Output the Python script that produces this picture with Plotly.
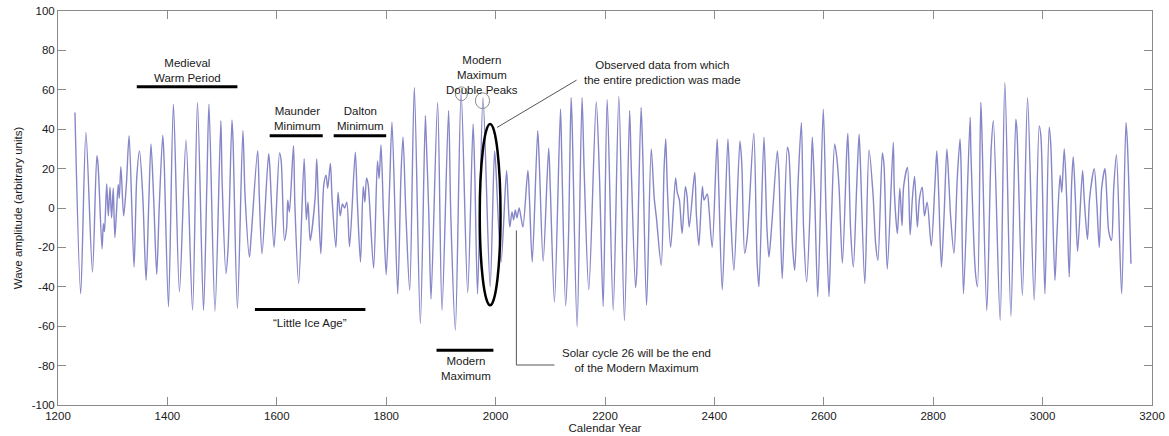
import plotly.graph_objects as go

# ---- data (extrema and kinks of the wave) ----
years = [
    1231, 1241.5, 1251, 1263, 1271, 1273, 1280.5, 1283, 1285, 1289, 1292, 1295, 1298, 1301, 1304,
    1310, 1312, 1315, 1320, 1325, 1330, 1339, 1344, 1349, 1355, 1361, 1366, 1370, 1375, 1380.5,
    1385, 1391.5, 1394, 1402, 1411, 1422, 1434, 1446, 1455, 1466, 1472, 1476, 1487, 1497.7, 1500,
    1507, 1511, 1518, 1520, 1528, 1538, 1542, 1550, 1553, 1565, 1568, 1573, 1585, 1587, 1595,
    1605, 1608, 1614, 1618, 1620, 1623, 1630.5, 1633, 1640, 1650, 1654, 1657, 1661, 1670, 1673,
    1676, 1680.5, 1686, 1690, 1693, 1698, 1701, 1708, 1712, 1716, 1720, 1724, 1728, 1733, 1743.5,
    1747, 1753, 1758, 1761, 1764, 1767, 1777, 1784, 1787, 1790.5, 1795, 1800, 1806, 1810.6, 1821,
    1827, 1830.7, 1836, 1843, 1851.4, 1862.4, 1871.5, 1873, 1878, 1882, 1894, 1902, 1914, 1918,
    1926.4, 1937, 1949, 1958.8, 1962, 1967, 1977, 1990, 1998, 2000, 2010, 2020, 2023, 2026,
    2030, 2033, 2036, 2039, 2043, 2046, 2050, 2059, 2062, 2067, 2077, 2080, 2087, 2097, 2100,
    2107.6, 2118.6, 2121, 2128, 2133, 2138, 2140, 2149, 2158, 2162, 2170.4, 2184, 2190, 2196.7,
    2204, 2215, 2225.3, 2235.5, 2245, 2248, 2255.8, 2258, 2266, 2269, 2276, 2284.5, 2290, 2294,
    2302.8, 2308, 2311, 2314, 2320, 2329, 2332, 2336, 2341, 2347, 2350, 2354, 2364, 2367, 2371.6,
    2378, 2381, 2387, 2390, 2396, 2405, 2408, 2414.4, 2424.7, 2430, 2435.7, 2446.7, 2450, 2455.3,
    2460, 2472, 2478, 2481.4, 2490.6, 2496, 2499.7, 2505, 2515, 2518, 2524, 2533.4, 2536, 2543,
    2546.8, 2553, 2559, 2563, 2568.7, 2576, 2579, 2583, 2589, 2599, 2604, 2609.5, 2614, 2619.9,
    2624, 2628, 2634, 2642, 2644, 2649, 2654, 2660, 2664.5, 2667, 2675, 2682.7, 2690, 2695, 2699,
    2707, 2710, 2716, 2727, 2729, 2734.5, 2739, 2743, 2746, 2753, 2757.8, 2762, 2766, 2771, 2775,
    2780, 2784, 2789, 2796.5, 2803, 2806.6, 2810, 2815, 2820, 2825, 2829, 2832, 2838, 2844, 2849,
    2851, 2855.4, 2867.5, 2869, 2877, 2881, 2887, 2889, 2898, 2906, 2910, 2922.4, 2931, 2942,
    2951, 2953, 2963, 2972.5, 2984.6, 2993.8, 2997, 3004.2, 3012, 3015, 3022.5, 3026, 3032, 3035,
    3039.6, 3044, 3048.7, 3053, 3056, 3060, 3064, 3073, 3076, 3082, 3086, 3094.4, 3099, 3103.6,
    3108, 3114, 3117, 3121, 3126, 3130, 3135, 3144.5, 3152.4, 3155, 3161.5,
]
amplitude = [
    48.5, -43.5, 38.4, -32.5, 26.6, 23, -20.7, -8, -12, 12.2, -4, 10.5, -5, 10, -15,
    12, 5, 21, -4, 12, 36.7, -30, 15.6, 29, 6, -36.7, 3, 32.5, 4, -33.7,
    0, 37, 24, -50.2, 52.7, -42.6, 34.4, -51.9, 53.6, -51.9, 10, 52.7, -52.4, 44.3, 14,
    -33.3, -20, 44.7, 34, -51, 39.3, 6, -24.9, -15, 29.1, 6, -23.2, 27.5, 22, -20,
    28, 24, -16.5, -10, 4, -2, 31.6, 2, -38.4, 25, -6, 3, -16.5, 5, 24.9,
    3, -23.2, 12, 16.6, 10, 22.6, 5, -20, 8, -4, 2, 0, 3, -19.7, 28.3,
    5, -27.4, 11, 3, 15.3, 12, -30.5, 23.9, 15, 32, -3, -33.8, 9, 43.5, -43.5,
    16.5, 35.9, -3, -41.8, 61.2, -58.6, 46.8, 37, -4, -46.2, 53.6, -52, 49.4, -3,
    -62, 58.7, -43, 42.6, 16.5, -43.6, 56, -40, 29, 23, -27.4, 19, 3, -9.7,
    -2, -6, -1, -5, 0, -4, -9.7, 19, 4, -27.4, 39.2, 22, -27, 30.4, 10,
    -47.7, 50.2, 25, -49.6, -18, 56, 42, -60.3, 56, 18, -41.5, 53.8, 15, -50,
    55, -51.9, 56.8, -57.2, 49.4, 20, -40.5, -33, 51, 28, -49.4, 30, 5, -5,
    -29.1, 20, 35, 10, -20, 15.3, 8, 4, -13, 11, 6, -9.7, 18, -3, -19,
    11, 4, 7.2, 0, -20, 35, 10, -41.5, 35, -5, -31.6, 34, 23, -23,
    -15, 38, -27, -40, 35.9, -10, -24.9, -8, 29, 17, -35.8, 30.9, 28, -20,
    -31.6, 13, 43.3, -10, -37.5, 8, 35.9, 10, -45, 50.2, -1, -45, -6, 32.5,
    25, 10, -28, 29, 38, -11, -30, 10, 37.5, 22, -38.4, 29.5, 7, -19, -26.5,
    28, 22, -31, 33.3, 8, -13, 10, -9, 11, 20.6, -13.6, 5, 16, -9.7, 5,
    10.5, -4, 3, -19.3, 11, 29, 8, -30, -3, 30, 11, -5, -23, 15, 35,
    21, -43.5, 46, 28, -32, -40, 53.6, 39, -52, 30, 44.3, -57, 63.7, -55,
    45.1, 40, -44.3, 56, -46.8, 41.7, 36, -43.5, 41, 32, -36.7, -15, 16.6, 8,
    30, 5, -35, 12, 26, 4, -22, 19, 5, -15.9, 5, 20, 3, -20,
    10, 20, 8, -12, -16.5, 10, 27, -43.5, 43.3, 33, -28.3,
]

x_ticks = [1200, 1400, 1600, 1800, 2000, 2200, 2400, 2600, 2800, 3000, 3200]
y_ticks = [-100, -80, -60, -40, -20, 0, 20, 40, 60, 80, 100]

FONT = "Liberation Sans, Arial, sans-serif"
TXT = "#1a1a1a"
FS = 11.5

fig = go.Figure()
fig.add_trace(go.Scatter(
    x=years, y=amplitude, mode="lines",
    line=dict(color="#8686c8", width=1.4, shape="spline", smoothing=0.8),
    hoverinfo="skip", showlegend=False,
))

axis_common = dict(
    showgrid=False, zeroline=False, showline=True, linecolor="#8a8a8a", linewidth=1,
    mirror="ticks", ticks="inside", ticklen=8, tickcolor="#8a8a8a",
    tickfont=dict(family=FONT, size=FS, color=TXT), automargin=False,
)
fig.update_xaxes(range=[1200, 3200], tickvals=x_ticks, ticktext=[str(v) for v in x_ticks],
                 title=dict(text="Calendar Year", font=dict(family=FONT, size=FS, color=TXT), standoff=2),
                 **axis_common)
fig.update_yaxes(range=[-100, 100], tickvals=y_ticks, ticktext=[str(v) for v in y_ticks],
                 title=dict(text="Wave amplitude (arbitrary units)", font=dict(family=FONT, size=FS, color=TXT), standoff=6),
                 **axis_common)

shapes = []
def hline(x0, x1, y, w=3):
    shapes.append(dict(type="line", xref="x", yref="y", x0=x0, x1=x1, y0=y, y1=y,
                       line=dict(color="black", width=w)))

hline(1344, 1528, 61.5)
hline(1587, 1684, 36.7)
hline(1704, 1800, 36.7)
hline(1560, 1762, -51.5)
hline(1892, 1996, -72.2)
# ellipse around observed data
shapes.append(dict(type="circle", xref="x", yref="y", x0=1971, x1=2009, y0=-49.4, y1=42.6,
                   line=dict(color="black", width=2.5)))
# double-peak circles
shapes.append(dict(type="circle", xref="x", yref="y", x0=1926.5, x1=1948.5, y0=54.5, y1=61.5,
                   line=dict(color="#8a8a8a", width=1)))
shapes.append(dict(type="circle", xref="x", yref="y", x0=1963, x1=1989, y0=50.5, y1=58.5,
                   line=dict(color="#8a8a8a", width=1)))
# leader lines
shapes.append(dict(type="line", xref="x", yref="y", x0=2002.7, y0=40.9, x1=2148, y1=64.9,
                   line=dict(color="#555555", width=1)))
shapes.append(dict(type="path", xref="x", yref="y",
                   path="M 2038,-11.4 L 2038,-79.7 L 2107.6,-79.7",
                   line=dict(color="#555555", width=1)))

annotations = []
def label(x, y, text):
    annotations.append(dict(x=x, y=y, xref="x", yref="y", text=text, showarrow=False,
                            xanchor="center", yanchor="middle", align="center",
                            font=dict(family=FONT, size=FS, color=TXT)))

label(1436, 69.6, "Medieval<br>Warm Period")
label(1637, 45.2, "Maunder<br>Minimum")
label(1753, 45.2, "Dalton<br>Minimum")
label(1661, -58.6, "\u201cLittle Ice Age\u201d")
label(1945, -81.4, "Modern<br>Maximum")
label(1975, 67.6, "Modern<br>Maximum<br>Double Peaks")
label(2305, 68.6, "Observed data from which<br>the entire prediction was made")
label(2258, -77.6, "Solar cycle 26 will be the end<br>of the Modern Maximum")

fig.update_layout(
    width=1169, height=436,
    margin=dict(l=58, r=17, t=11, b=31),
    paper_bgcolor="white", plot_bgcolor="white",
    shapes=shapes, annotations=annotations,
    font=dict(family=FONT, size=FS, color=TXT),
)

fig.write_html("out.html", config={"displayModeBar": False},
               post_script="document.body.style.margin='0';")
